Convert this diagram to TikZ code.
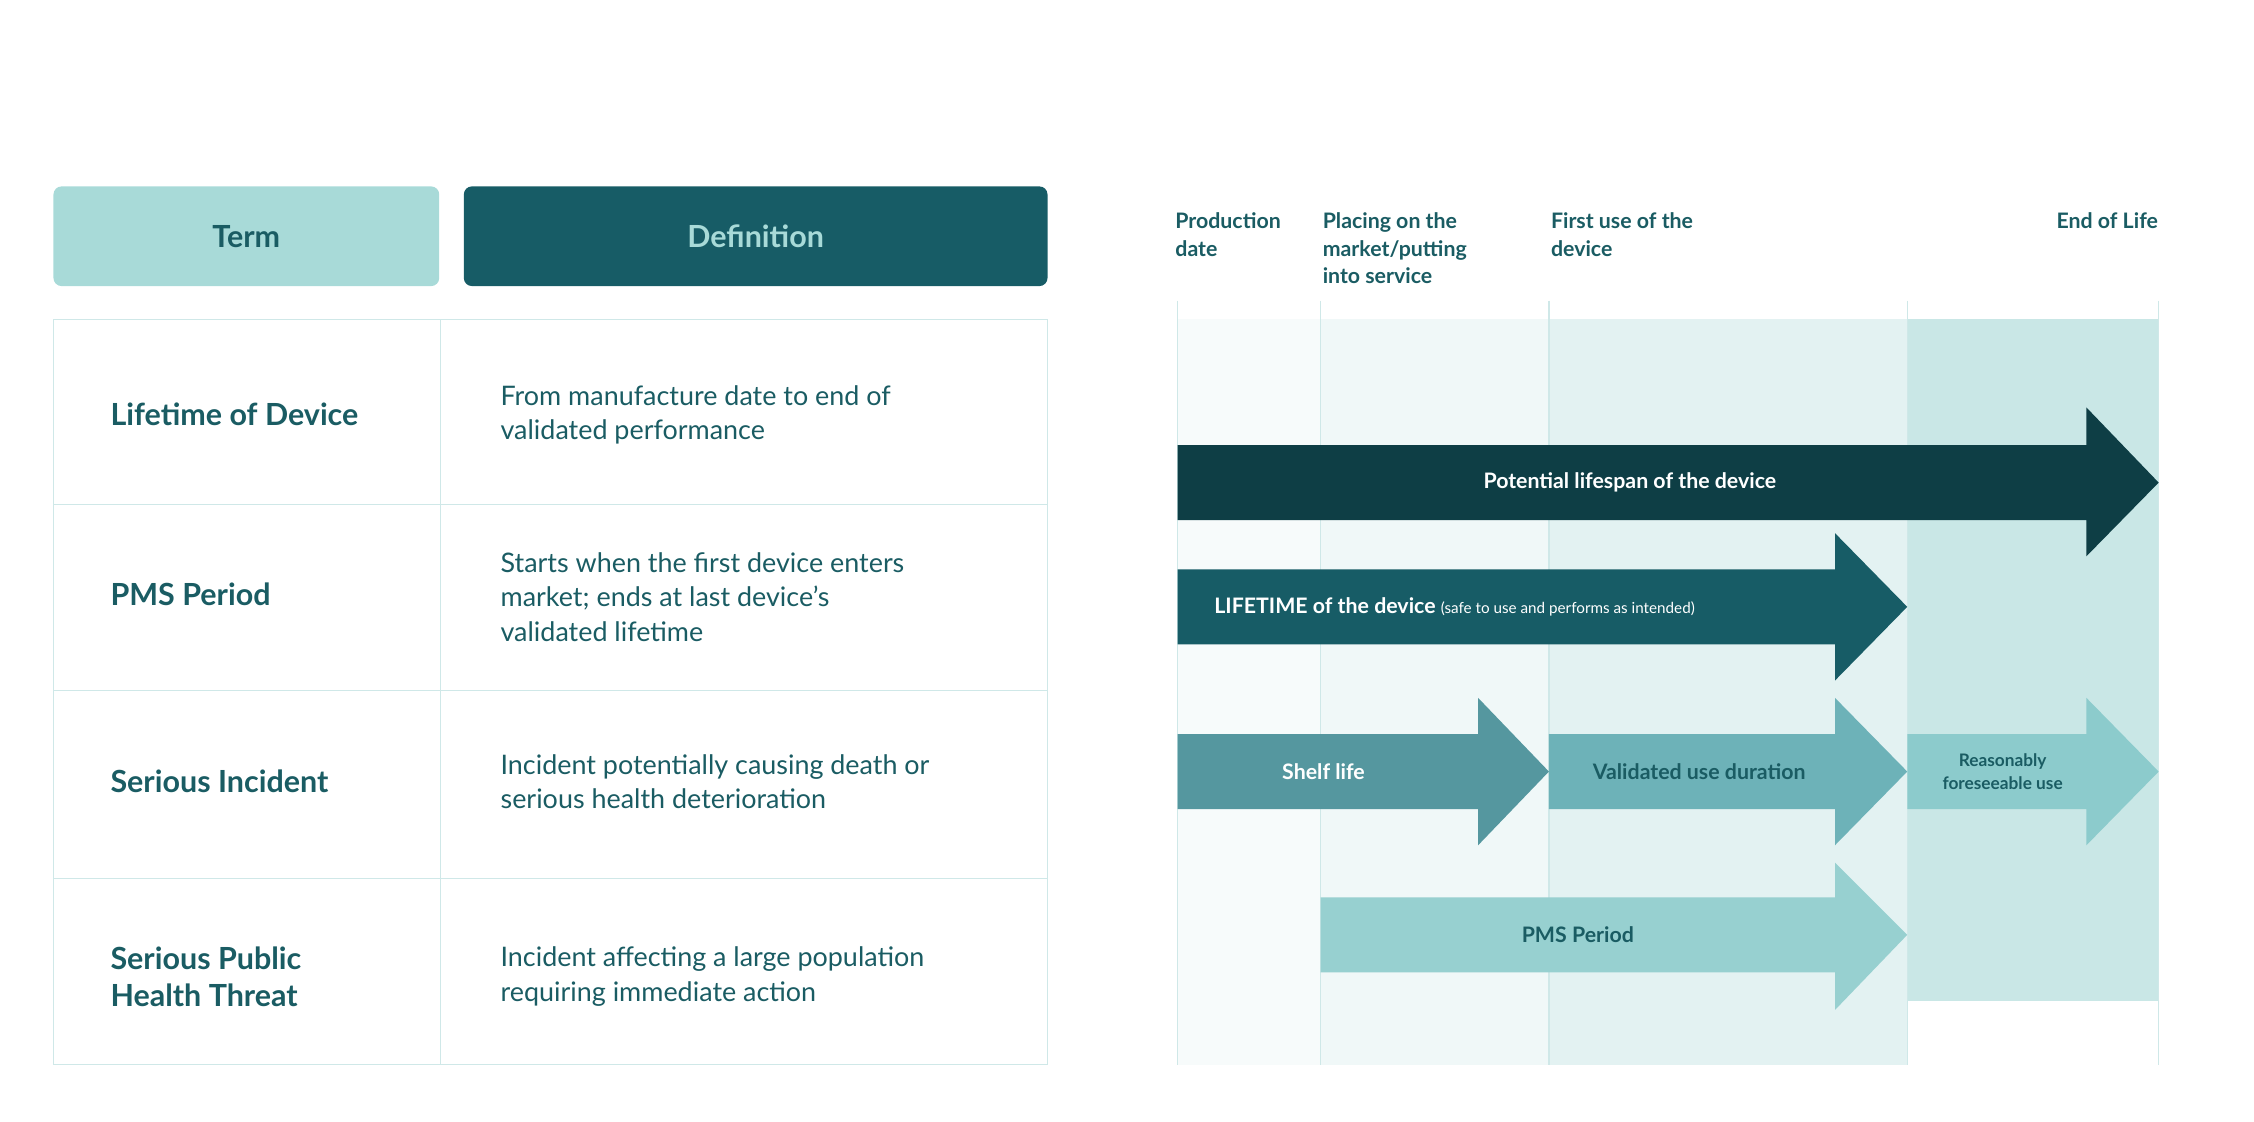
\documentclass[tikz,border=0pt]{standalone}
\usepackage{fontspec}
\setmainfont{Lato}
\definecolor{hdrL}{HTML}{A8DAD8}
\definecolor{hdrD}{HTML}{175C66}
\definecolor{txtD}{HTML}{1A5C63}
\definecolor{grid}{HTML}{CFE8E8}
\definecolor{bg1}{HTML}{F7FBFB}
\definecolor{bg2}{HTML}{F0F8F8}
\definecolor{bg3}{HTML}{E3F2F2}
\definecolor{bg4}{HTML}{C9E7E6}
\definecolor{arA}{HTML}{0E3E45}
\definecolor{arB}{HTML}{175C66}
\definecolor{arC}{HTML}{55979F}
\definecolor{arD}{HTML}{6DB2B8}
\definecolor{arE}{HTML}{8CCBCC}
\definecolor{arF}{HTML}{97D0D0}
\begin{document}
\begin{tikzpicture}[x=0.05cm,y=-0.05cm,
  term/.style={anchor=west,align=left,text=txtD,font=\fontsize{30}{36}\selectfont\bfseries},
  defn/.style={anchor=west,align=left,text=txtD,font=\fontsize{26.5}{34}\selectfont},
  tl/.style={anchor=north west,align=left,text=txtD,font=\fontsize{21}{27}\selectfont\bfseries},
  atxt/.style={font=\fontsize{21}{26}\selectfont\bfseries}]
\useasboundingbox (0,0) rectangle (1560,776);
% headers
\fill[hdrL,rounded corners=8] (37,129) rectangle (304,198);
\node[text=txtD,font=\fontsize{30}{36}\selectfont\bfseries] (hterm) at (170.5,163.5) {Term};
\fill[hdrD,rounded corners=8] (321,129) rectangle (725,198);
\node[text=hdrL,font=\fontsize{30}{36}\selectfont\bfseries] (hdef) at (523,163.5) {Definition};
% table grid
\draw[grid,line width=1.2] (37,221) rectangle (725,737);
\draw[grid,line width=1.2] (305,221) -- (305,737);
\foreach \y in {349,478,608} \draw[grid,line width=1.2] (37,\y) -- (725,\y);
\node[term] (t1) at (74,287) {Lifetime of Device};
\node[defn] (d1) at (344,287) {From manufacture date to end of\\validated performance};
\node[term] (t2) at (74,411) {PMS Period};
\node[defn] (d2) at (344,413) {Starts when the first device enters\\market; ends at last device’s\\validated lifetime};
\node[term] (t3) at (74,541) {Serious Incident};
\node[defn] (d3) at (344,541) {Incident potentially causing death or\\serious health deterioration};
\node[term] (t4) at (74,676) {Serious Public\\Health Threat};
\node[defn] (d4) at (344,676) {Incident affecting a large population\\requiring immediate action};
% timeline backgrounds
\fill[bg1] (815,221) rectangle (914,737);
\fill[bg2] (914,221) rectangle (1072,737);
\fill[bg3] (1072,221) rectangle (1320,737);
\fill[bg4] (1320,221) rectangle (1494,693);
\foreach \x in {815,914,1072,1320,1494} \draw[grid,line width=1.2] (\x,208) -- (\x,737);
\node[tl] (h1) at (811,145) {Production\\date};
\node[tl] (h2) at (913,145) {Placing on the\\market/putting\\into service};
\node[tl] (h3) at (1071,145) {First use of the\\device};
\node[tl,anchor=north east] (h4) at (1496,145) {End of Life};
% arrows
\fill[arA] (815,308) -- (1444,308) -- (1444,282) -- (1494,334) -- (1444,385) -- (1444,360) -- (815,360) -- cycle;
\node[atxt,text=white] (a1) at (1128,334) {Potential lifespan of the device};
\fill[arB] (815,394) -- (1270,394) -- (1270,369) -- (1320,420) -- (1270,471) -- (1270,446) -- (815,446) -- cycle;
\node[atxt,text=white,anchor=west] (a2) at (838,420) {LIFETIME of the device {\mdseries\fontsize{15}{18}\selectfont(safe to use and performs as intended)}};
\fill[arC] (815,508) -- (1023,508) -- (1023,483) -- (1072,534) -- (1023,585) -- (1023,560) -- (815,560) -- cycle;
\node[atxt,text=white] (a3) at (916,534) {Shelf life};
\fill[arD] (1072,508) -- (1270,508) -- (1270,483) -- (1320,534) -- (1270,585) -- (1270,560) -- (1072,560) -- cycle;
\node[atxt,text=txtD] (a4) at (1176,534) {Validated use duration};
\fill[arE] (1320,508) -- (1444,508) -- (1444,483) -- (1494,534) -- (1444,585) -- (1444,560) -- (1320,560) -- cycle;
\node[text=txtD,align=center,font=\fontsize{17}{22}\selectfont\bfseries] (a5) at (1386,534) {Reasonably\\foreseeable use};
\fill[arF] (914,621) -- (1270,621) -- (1270,597) -- (1320,647) -- (1270,699) -- (1270,673) -- (914,673) -- cycle;
\node[atxt,text=txtD] (a6) at (1092,647) {PMS Period};
\end{tikzpicture}
\end{document}
